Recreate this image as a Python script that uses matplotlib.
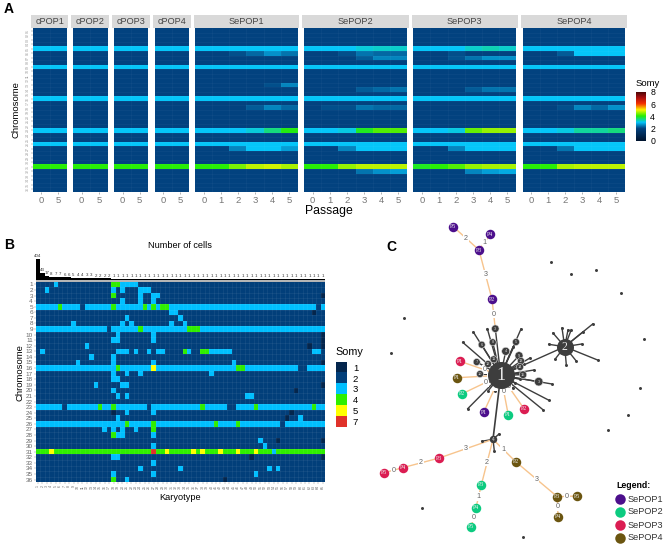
import numpy as np
import matplotlib
matplotlib.use("Agg")
import matplotlib.pyplot as plt
from matplotlib.colors import LinearSegmentedColormap, ListedColormap, BoundaryNorm

plt.rcParams['font.family'] = ['Liberation Sans', 'DejaVu Sans']

W, H = 663, 547
fig = plt.figure(figsize=(W / 100, H / 100), dpi=100)


def px_axes(x0, y0, x1, y1):
    return fig.add_axes([x0 / W, 1 - y1 / H, (x1 - x0) / W, (y1 - y0) / H])


def faint_grid(ax, nx, ny, alpha):
    ax.vlines(np.arange(1, nx) - 0.5, -0.5, ny - 0.5, color="white", alpha=alpha, lw=0.4)
    ax.hlines(np.arange(1, ny) - 0.5, -0.5, nx - 0.5, color="white", alpha=alpha, lw=0.4)


# ---- panel A data: somy per chromosome, default is 2
chrom_labels = ["%02d" % i for i in range(1, 37)]
control_passages = [0, 5]
selected_passages = [0, 1, 2, 3, 4, 5]
control_names = ["cPOP1", "cPOP2", "cPOP3", "cPOP4"]
selected_names = ["SePOP1", "SePOP2", "SePOP3", "SePOP4"]

control_rows = {5: [3, 3], 9: [3, 3], 16: [3, 3], 23: [3, 3], 26: [3, 3], 31: [4, 4]}
sepop1_rows = {
    5: [3, 3, 3, 3, 3, 3], 6: [2, 2, 2.1, 2.3, 2.6, 2.4], 9: [3, 3, 3, 3, 3, 3],
    13: [2, 2, 2, 2, 2.1, 2.5], 16: [3, 3, 3, 3, 3, 3], 18: [2, 2, 2, 2.2, 2.5, 2.3],
    23: [3, 3, 3, 3.15, 3.5, 3.95], 26: [3, 3, 3, 3, 3, 3], 27: [2, 2, 2.5, 3, 3, 2.7],
    31: [4, 4, 4.4, 4.7, 4.8, 4.6],
}
sepop2_rows = {
    5: [3, 3, 3, 3.15, 3.2, 3.2], 6: [2, 2, 2.1, 2.4, 2.3, 2.3], 7: [2, 2, 2, 2.2, 2.5, 2.5],
    9: [3, 3, 3, 3, 3, 3], 14: [2, 2, 2, 2.2, 2.3, 2.4], 16: [3, 3, 3, 3, 3, 3],
    18: [2, 2.1, 2.1, 2.4, 2.3, 2.3], 23: [3, 3, 3.1, 3.9, 4.2, 4.2], 26: [3, 3, 3, 3, 3, 3],
    27: [2, 2, 2.5, 3, 3, 3], 31: [4, 4, 4.5, 4.7, 4.7, 4.7], 32: [2, 2, 2, 2.4, 2.6, 2.7],
}
sepop3_rows = {
    5: [3, 3, 3, 3.2, 3.3, 3.2], 6: [2, 2, 2.1, 2, 2, 2], 7: [2, 2, 2.15, 2.4, 2.6, 2.6],
    9: [3, 3, 3, 3, 3, 3], 14: [2, 2, 2, 2.2, 2.4, 2.4], 16: [3, 3, 3, 3, 3, 3],
    23: [3, 3, 3.1, 4.3, 4.5, 4.5], 26: [3, 3, 3, 3, 3, 3], 27: [2, 2, 2.5, 3, 3, 3],
    31: [3.9, 4, 4.2, 4.5, 4.6, 4.6], 32: [2, 2, 2, 2.5, 2.7, 2.8],
}
sepop4_rows = {
    5: [3, 3, 3, 3, 3, 3], 6: [2, 2, 2.2, 3, 3, 3], 9: [3, 3, 3, 3, 3, 3],
    16: [3, 3, 3, 3, 3, 3], 18: [2, 2, 2.1, 2.5, 2.3, 2.6], 23: [3, 3, 3.1, 3.4, 3.4, 3.5],
    26: [3, 3, 3, 3, 3, 3], 27: [2, 2, 2.4, 3, 3, 3], 31: [4, 4, 4.6, 4.7, 4.7, 4.7],
}
selected_rows = [sepop1_rows, sepop2_rows, sepop3_rows, sepop4_rows]

control_boxes = [(32.7, 66.7), (73, 107.7), (114, 148), (154.5, 189)]
selected_boxes = [(195.3, 297.6), (304, 407), (413.3, 516), (522.7, 625)]

somy_cmap = LinearSegmentedColormap.from_list(
    "somy",
    [(0, "#00142e"), (0.25, "#02417e"), (0.375, "#05c6fc"), (0.5, "#25ee05"),
     (0.625, "#fbf500"), (0.75, "#f53000"), (0.875, "#a80f10"), (1, "#3d0505")])


def draw_facet(box, name, passages, rows, first):
    ax = px_axes(box[0], 28.3, box[1], 191.7)
    grid = np.full((36, len(passages)), 2.0)
    for chrom, vals in rows.items():
        grid[chrom - 1] = vals
    ax.pcolormesh(np.arange(len(passages) + 1) - 0.5, np.arange(37) - 0.5, grid,
                  cmap=somy_cmap, vmin=0, vmax=8)
    faint_grid(ax, len(passages), 36, 0.06)
    ax.set_ylim(35.5, -0.5)
    ax.set_xlim(-0.5, len(passages) - 0.5)
    ax.set_xticks(range(len(passages)))
    ax.set_xticklabels(passages, fontsize=6.8, color="#777777")
    ax.tick_params(axis="x", length=1.5, width=0.4, color="#777777", pad=1.5)
    if first:
        ax.set_yticks(range(36))
        ax.set_yticklabels(chrom_labels, fontsize=2.6, color="#999999", rotation=90, va="center")
        ax.tick_params(axis="y", length=1.5, width=0.3, color="#777777", pad=0.5)
    else:
        ax.set_yticks([])
    for s in ax.spines.values():
        s.set_visible(False)
    strip = px_axes(box[0] - 1.7, 14.7, box[1] + 1.7, 28.3)
    strip.set_facecolor("#d9d9d9")
    strip.set_xticks([])
    strip.set_yticks([])
    for s in strip.spines.values():
        s.set_visible(False)
    strip.text(0.5, 0.47, name, transform=strip.transAxes, ha="center", va="center",
               fontsize=6.6, color="#444444")


for i, name in enumerate(control_names):
    draw_facet(control_boxes[i], name, control_passages, control_rows, i == 0)
for i, name in enumerate(selected_names):
    draw_facet(selected_boxes[i], name, selected_passages, selected_rows[i], False)

fig.text(16 / W, 1 - 110 / H, "Chromosome", rotation=90, ha="center", va="center", fontsize=6.8)
fig.text(329 / W, 1 - 211 / H, "Passage", ha="center", va="center", fontsize=8.8)

# colorbar of panel A
cax = px_axes(636, 91.7, 646, 141)
cax.imshow(np.linspace(8, 0, 200)[:, None], cmap=somy_cmap, vmin=0, vmax=8, aspect="auto",
           extent=[0, 1, 0, 8])
cax.set_xticks([])
cax.yaxis.tick_right()
cax.set_yticks([0, 2, 4, 6, 8])
cax.tick_params(axis="y", length=0, labelsize=6.3, pad=3)
for s in cax.spines.values():
    s.set_visible(False)
fig.text(636 / W, 1 - 83 / H, "Somy", ha="left", va="center", fontsize=6.8)

# ---- panel B data: karyotypes, column numbers counted from 0, default somy is 2
n_karyotypes = 65
cell_counts = [404, 43, 17, 8, 7, 7, 6, 6, 5, 4, 4, 3, 3, 2, 2, 2, 2] + [1] * 48

# rows that are somy 3 nearly everywhere: chromosome -> columns that stay at 2
gain_rows_gaps = {5: [10, 63], 9: [16], 16: [59, 60], 23: [6, 25, 43, 44], 26: [55]}
somy3_cells = {
    1: [4, 19, 20, 21, 22], 2: [2, 17, 19, 23, 24, 25], 3: [23, 26, 27], 4: [19, 23, 26],
    6: [30, 31], 7: [20, 32], 8: [8, 19, 21, 30, 33], 10: [18, 26], 11: [17, 18, 26],
    12: [11], 13: [1, 18, 19, 20, 22, 25, 27, 28, 34, 39, 40, 41, 42, 43, 62, 63],
    14: [12, 17], 15: [9, 17, 26, 44], 17: [17, 20, 23, 39], 18: [17, 18], 19: [13, 19, 20],
    20: [17], 21: [18, 20, 47, 48], 24: [20, 26], 25: [18, 59], 27: [15, 17, 19, 22],
    28: [18, 19, 26], 29: [50], 30: [26, 51], 31: [53], 32: [17, 18], 33: [26],
    34: [23, 32, 52, 54], 35: [17, 26, 49], 36: [20],
}
somy4_cells = {
    1: [17, 18], 3: [17], 5: [5, 17, 24, 26, 28, 29], 9: [23, 34, 35, 36], 13: [33, 37, 38],
    16: [18, 45, 46], 23: [14, 17, 37, 49, 62], 26: [20, 26, 40, 45], 27: [26], 28: [17], 36: [17],
}
somy5_cells = {16: [26], 31: [3, 29, 35, 37, 41, 45, 49]}
somy7_cells = {31: [26]}
somy1_cells = {
    3: [64], 6: [62], 10: [64], 11: [64], 12: [61, 64], 15: [64], 19: [64], 20: [58],
    24: [17, 57], 25: [56], 29: [54, 64], 32: [48, 64], 36: [42],
}
somy_levels = [1, 2, 3, 4, 5, 7]
somy_colors = ["#04264d", "#023f7a", "#00bfff", "#2fee00", "#ffff00", "#e0322a"]

matrix = np.full((36, n_karyotypes), 2)
matrix[30, :] = 4
for chrom, gaps in gain_rows_gaps.items():
    matrix[chrom - 1, :] = 3
    matrix[chrom - 1, gaps] = 2
for level, cells in [(3, somy3_cells), (4, somy4_cells), (5, somy5_cells),
                     (7, somy7_cells), (1, somy1_cells)]:
    for chrom, cols in cells.items():
        matrix[chrom - 1, cols] = level

ax_b = px_axes(35.7, 281.7, 325, 482.3)
norm = BoundaryNorm([0.5, 1.5, 2.5, 3.5, 4.5, 6, 8], len(somy_colors))
ax_b.pcolormesh(np.arange(n_karyotypes + 1) - 0.5, np.arange(37) - 0.5, matrix,
                cmap=ListedColormap(somy_colors), norm=norm)
faint_grid(ax_b, n_karyotypes, 36, 0.1)
ax_b.set_ylim(35.5, -0.5)
ax_b.set_xlim(-0.5, n_karyotypes - 0.5)
ax_b.set_yticks(range(36))
ax_b.set_yticklabels(range(1, 37), fontsize=4.6, color="#666666")
ax_b.set_xticks(range(n_karyotypes))
ax_b.set_xticklabels(range(1, n_karyotypes + 1), fontsize=2.6, color="#666666", rotation=90)
ax_b.tick_params(axis="both", length=1.2, width=0.3, color="#888888", pad=0.8)
for s in ax_b.spines.values():
    s.set_visible(False)

# bars above the heatmap, square root scale
ax_top = px_axes(35.7, 258.5, 325, 280)
ax_top.bar(range(n_karyotypes), cell_counts, width=1, color="black")
ax_top.set_yscale("function", functions=(np.sqrt, np.square))
ax_top.set_ylim(0, 404)
ax_top.set_xlim(-0.5, n_karyotypes - 0.5)
ax_top.axis("off")
for i, c in enumerate(cell_counts):
    ax_top.annotate(str(c), (i, c), xytext=(0, 0.6), textcoords="offset points",
                    ha="center", va="bottom", fontsize=3.2, color="#333333")
sep = px_axes(35.7, 280, 325, 281.7)
sep.set_facecolor("#b5b5b5")
sep.set_xticks([])
sep.set_yticks([])
for s in sep.spines.values():
    s.set_visible(False)

fig.text(179.5 / W, 1 - 246 / H, "Number of cells", ha="center", va="center", fontsize=6.6)
fig.text(20 / W, 1 - 373 / H, "Chromosome", rotation=90, ha="center", va="center", fontsize=6.8)
fig.text(180 / W, 1 - 497 / H, "Karyotype", ha="center", va="center", fontsize=6.6)

# legend of panel B
leg_b = px_axes(335.7, 361.7, 346, 427)
leg_b.imshow(np.arange(6)[:, None], cmap=ListedColormap(somy_colors), aspect="auto",
             extent=[0, 1, 6, 0])
leg_b.set_xticks([])
leg_b.yaxis.tick_right()
leg_b.set_yticks(np.arange(6) + 0.5)
leg_b.set_yticklabels(somy_levels)
leg_b.tick_params(axis="y", length=0, labelsize=6.8, pad=5)
for s in leg_b.spines.values():
    s.set_visible(False)
fig.text(335 / W, 1 - 352 / H, "Somy", ha="left", va="center", fontsize=7.8)

# ---- panel C data: network drawn in picture pixels
pop_colors = {"SePOP1": "#4c0f8c", "SePOP2": "#0ccb80", "SePOP3": "#db1d52", "SePOP4": "#6b5510"}
hub_xy = {"1": (500.7, 375.3), "2": (564.7, 346.7), "n4": (493, 439.3)}
pop_nodes = {
    "a5": (453.3, 226.7, "P5", "SePOP1"), "a4": (490.3, 234.3, "P4", "SePOP1"),
    "a3": (479, 250, "P3", "SePOP1"), "a2": (492, 299.3, "P2", "SePOP1"),
    "a1": (483.7, 412.3, "P1", "SePOP1"),
    "b1": (508.3, 415, "P1", "SePOP2"), "b2": (462.3, 393.7, "P2", "SePOP2"),
    "b3": (481.3, 485, "P3", "SePOP2"), "b4": (476, 507.7, "P4", "SePOP2"),
    "b5": (471.3, 527, "P5", "SePOP2"),
    "c1": (460, 361.3, "P1", "SePOP3"), "c2": (524, 408.7, "P2", "SePOP3"),
    "c3": (439.3, 458, "P3", "SePOP3"), "c4": (402.7, 467.7, "P4", "SePOP3"),
    "c5": (384.3, 472.7, "P5", "SePOP3"),
    "d1": (457, 377.7, "P1", "SePOP4"), "d2": (515.7, 461.7, "P2", "SePOP4"),
    "d3": (557.3, 496.7, "P3", "SePOP4"), "d4": (558, 517, "P4", "SePOP4"),
    "d5": (577, 496, "P5", "SePOP4"),
}
gray_nodes_x = [495.3, 492.7, 481.7, 516, 505.7, 519, 476.7, 493.7, 488, 521, 520, 523, 480, 538.7]
gray_nodes_y = [328.7, 342.3, 344.7, 342, 351.3, 355.7, 362, 359.3, 364, 361, 367, 374.7, 374, 381.7]
gray_nodes_d = [7.5, 7, 7, 7, 8, 8, 7, 7, 7, 7, 7, 7.5, 7, 8.5]
gray_nodes_lab = ["3", "8", "6", "5", "4", "9", "7", "11", "12", "13", "14", "15", "10", "3"]
# spokes: (leaf x, leaf y) that leave the hub through a gray node or straight out
hub1_leaves_x = [487.3, 473.3, 462.7, 521, 552, 467.7, 543.3, 549, 518.3, 520, 515.3, 512.7,
                 495, 488.3, 484, 486.7, 524, 534, 530, 513]
hub1_leaves_y = [328.7, 332, 342.3, 329, 384, 408.7, 410, 400.3, 373.3, 379.3, 383.3, 388.3,
                 390.7, 390.7, 385, 373.3, 364, 370, 358, 347]
hub2_leaves_x = [562, 571.3, 553, 548.7, 555, 566.3, 576, 581.7, 583.3, 592.7, 598.3, 568]
hub2_leaves_y = [328, 329.7, 333, 344.3, 359.3, 364.7, 360.7, 344, 331.7, 324, 360.3, 330]
n4_leaves_x = [481.7, 494.3, 499]
n4_leaves_y = [441.3, 450.7, 434]
lonely_x = [551, 570.7, 595.7, 620.7, 644, 639.7, 403.7, 391, 627.7, 607.7, 422.3, 523]
lonely_y = [261.7, 274, 269.7, 293, 339, 388.3, 317.7, 353.3, 415, 430.3, 508, 537.3]
orange_edges = [
    ("a5", "a3", "2", 0.5), ("a4", "a3", "1", 0.5), ("a3", "a2", "3", 0.5), ("a2", (495.3, 328.7), "0", 0.5),
    ("c1", "1", "0", 0.6), ("d1", "1", "0", 0.75), ("b2", "1", "0", 0.62), ("a1", "1", "0", 0.7),
    ("b1", "1", "0", 0.6), ("c2", "1", "0", 0.65),
    ("n4", "c3", "3", 0.5), ("c3", "c4", "2", 0.5), ("c4", "c5", "0", 0.5),
    ("n4", "b3", "2", 0.5), ("b3", "b4", "1", 0.5), ("b4", "b5", "0", 0.5),
    ("n4", "d2", "1", 0.45), ("d2", "d3", "3", 0.5), ("d3", "d5", "0", 0.5), ("d3", "d4", "0", 0.5),
]

net = fig.add_axes([0, 0, 1, 1], zorder=5)
net.set_xlim(0, W)
net.set_ylim(H, 0)
net.axis("off")
net.patch.set_alpha(0)


def pt_size(d_px):
    return (d_px * 0.72) ** 2


def node_xy(key):
    if isinstance(key, tuple):
        return key
    if key in hub_xy:
        return hub_xy[key]
    return pop_nodes[key][:2]


dark = "#3d3d3d"
hx, hy = hub_xy["1"]
for lx, ly in zip(hub1_leaves_x, hub1_leaves_y):
    net.plot([hx, lx], [hy, ly], color=dark, lw=1.0, zorder=1)
net.scatter(hub1_leaves_x, hub1_leaves_y, s=pt_size(3), color=dark, zorder=2, linewidths=0)
for gx, gy in zip(gray_nodes_x, gray_nodes_y):
    net.plot([hx, gx], [hy, gy], color=dark, lw=1.0, zorder=1)
h2x, h2y = hub_xy["2"]
net.plot([hx, h2x], [hy, h2y], color=dark, lw=1.0, zorder=1)
for lx, ly in zip(hub2_leaves_x, hub2_leaves_y):
    net.plot([h2x, lx], [h2y, ly], color=dark, lw=1.0, zorder=1)
net.scatter(hub2_leaves_x, hub2_leaves_y, s=pt_size(3), color=dark, zorder=2, linewidths=0)
n4x, n4y = hub_xy["n4"]
net.plot([hx, n4x], [hy, n4y], color=dark, lw=1.2, zorder=1)
for lx, ly in zip(n4_leaves_x, n4_leaves_y):
    net.plot([n4x, lx], [n4y, ly], color=dark, lw=1.0, zorder=1)
net.scatter(n4_leaves_x, n4_leaves_y, s=pt_size(3), color=dark, zorder=2, linewidths=0)

for a, b, lab, frac in orange_edges:
    x0, y0 = node_xy(a)
    x1, y1 = node_xy(b)
    net.plot([x0, x1], [y0, y1], color="#f7c48d", lw=1.0, zorder=1.5)
    net.text(x0 + (x1 - x0) * frac, y0 + (y1 - y0) * frac, lab, ha="center", va="center",
             fontsize=5.2, color="#666666", zorder=3,
             bbox=dict(facecolor="white", edgecolor="none", pad=0.5))

net.scatter(gray_nodes_x, gray_nodes_y, s=[pt_size(d) for d in gray_nodes_d], color=dark, zorder=4,
            linewidths=0.4, edgecolors="#dddddd")
for gx, gy, lab in zip(gray_nodes_x, gray_nodes_y, gray_nodes_lab):
    net.text(gx, gy, lab, ha="center", va="center", fontsize=2.8, color="#dddddd", zorder=5)
net.scatter([hx], [hy], s=pt_size(27), color=dark, zorder=4, linewidths=0)
net.scatter([h2x], [h2y], s=pt_size(17), color=dark, zorder=4, linewidths=0)
net.scatter([n4x], [n4y], s=pt_size(7.5), color=dark, zorder=4, linewidths=0)
net.text(hx, hy, "1", ha="center", va="center", fontsize=13, color="#e8e8e8", zorder=5,
         family="Liberation Serif")
net.text(h2x, h2y, "2", ha="center", va="center", fontsize=8.5, color="#e8e8e8", zorder=5,
         family="Liberation Serif")
net.text(n4x, n4y, "4", ha="center", va="center", fontsize=3.5, color="#dddddd", zorder=5)

for x, y, lab, pop in pop_nodes.values():
    net.scatter([x], [y], s=pt_size(9.5), color=pop_colors[pop], zorder=4, linewidths=0)
    net.text(x, y, lab, ha="center", va="center", fontsize=4.2, color="#f2f2f2", zorder=5,
             family="Liberation Serif")

net.scatter(lonely_x, lonely_y, s=pt_size(3), color=dark, zorder=2, linewidths=0)

# legend of panel C
net.text(616, 486, "Legend:", fontsize=6.3, fontweight="bold", ha="left", va="center")
legend_names = ["SePOP1", "SePOP2", "SePOP3", "SePOP4"]
legend_y = [499, 512, 525, 538]
for name, y in zip(legend_names, legend_y):
    net.scatter([620], [y], s=pt_size(10.5), color=pop_colors[name], linewidths=0)
    net.text(628, y, name, fontsize=6.6, color="#333333", ha="left", va="center")

# panel letters
net.text(4, 9, "A", fontsize=10, fontweight="bold", ha="left", va="center")
net.text(4, 245, "B", fontsize=10, fontweight="bold", ha="left", va="center")
net.text(386, 247, "C", fontsize=10, fontweight="bold", ha="left", va="center")

fig.savefig("out.png", dpi=100)
